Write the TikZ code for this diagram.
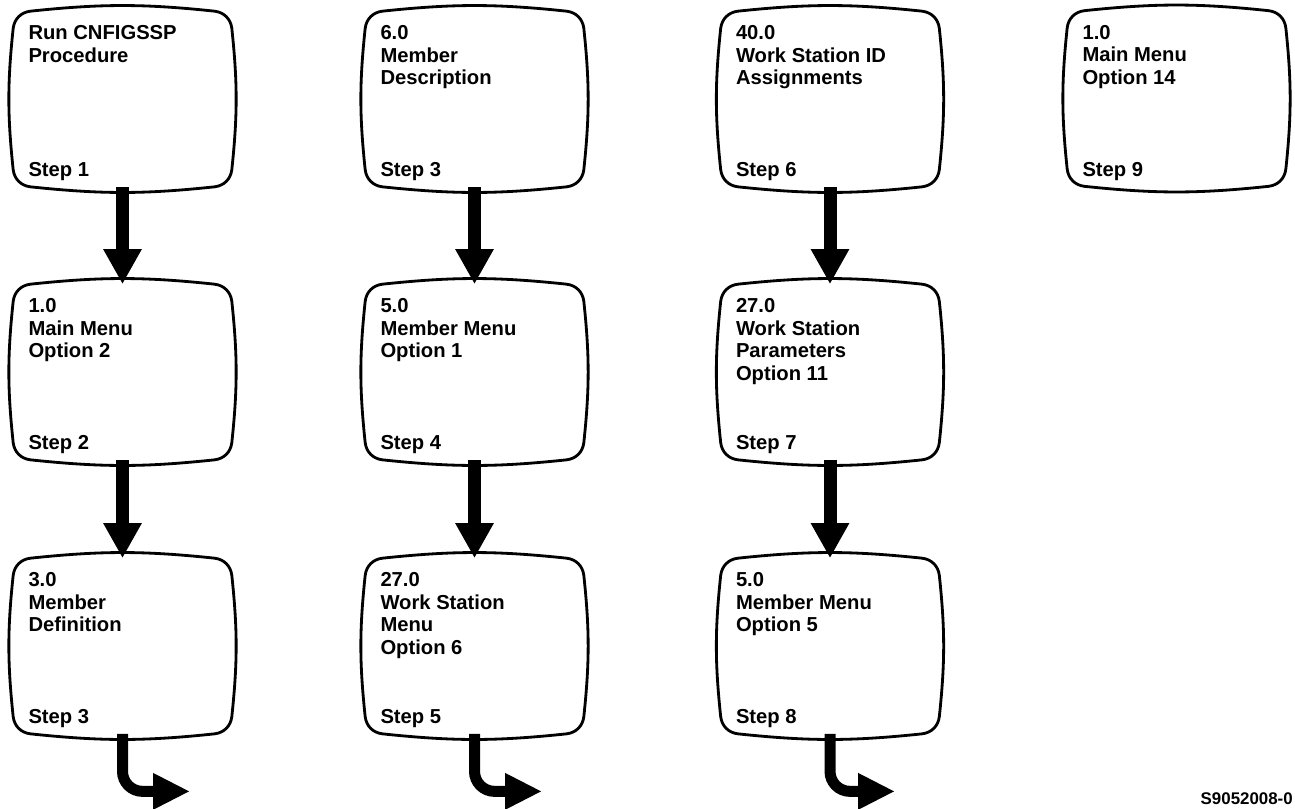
\documentclass[tikz,border=0pt]{standalone}
\usepackage{fontspec}
\setmainfont{Liberation Sans}
\usetikzlibrary{arrows.meta,calc}

% outline of a display screen round a node
\newcommand{\screenframe}[1]{%
  \draw[frame] ($(#1.north west)+(0.35,0)$)
    to[out=6,in=174] ($(#1.north east)+(-0.35,0)$)
    to[out=-6,in=96] ($(#1.north east)+(0,-0.35)$)
    to[out=-84,in=84] ($(#1.south east)+(0,0.35)$)
    to[out=-96,in=6] ($(#1.south east)+(-0.35,0)$)
    to[out=186,in=-6] ($(#1.south west)+(0.35,0)$)
    to[out=174,in=-84] ($(#1.south west)+(0,0.35)$)
    to[out=96,in=-96] ($(#1.north west)+(0,-0.35)$)
    to[out=84,in=186] ($(#1.north west)+(0.35,0)$) -- cycle;}

\begin{document}
\begin{tikzpicture}[
    screen/.style={rectangle, minimum width=4.36cm, minimum height=3.5cm, inner sep=0pt},
    frame/.style={line width=1.6pt},
    head/.style={anchor=north west, xshift=0.3cm, yshift=-0.28cm, inner sep=0pt,
      align=left, font=\bfseries\fontsize{11.5}{12.8}\selectfont},
    stepno/.style={anchor=base west, xshift=0.3cm, yshift=0.2cm, inner sep=0pt,
      font=\bfseries\fontsize{11.5}{12.8}\selectfont},
    down/.style={line width=0.26cm, -{Triangle[width=0.72cm,length=0.7cm]}},
    turn/.style={line width=0.22cm, rounded corners=0.4cm, -{Triangle[width=0.68cm,length=0.74cm]}}
  ]
  \useasboundingbox (0,0) rectangle (25.9,-16.16);
  \clip (0,0) rectangle (25.9,-16.16);

  % Column 1
  \node[screen] (a1) at (2.45,-1.98) {};
  \node[head] (ha1) at (a1.north west) {Run CNFIGSSP\\Procedure};
  \node[stepno] (na1) at (a1.south west) {Step 1};
  \node[screen] (a2) at (2.45,-7.44) {};
  \node[head] (ha2) at (a2.north west) {1.0\\Main Menu\\Option 2};
  \node[stepno] (na2) at (a2.south west) {Step 2};
  \node[screen] (a3) at (2.45,-12.92) {};
  \node[head] (ha3) at (a3.north west) {3.0\\Member\\Definition};
  \node[stepno] (na3) at (a3.south west) {Step 3};
  \coordinate (ea) at ($(a3.south)+(1.35,-1.15)$);
  \screenframe{a1}
  \screenframe{a2}
  \screenframe{a3}
  \draw[down] (a1.south) -- (a2.north);
  \draw[down] (a2.south) -- (a3.north);
  \draw[turn] (a3.south) |- (ea);

  % Column 2
  \node[screen] (b1) at (9.49,-1.98) {};
  \node[head] (hb1) at (b1.north west) {6.0\\Member\\Description};
  \node[stepno] (nb1) at (b1.south west) {Step 3};
  \node[screen] (b2) at (9.49,-7.44) {};
  \node[head] (hb2) at (b2.north west) {5.0\\Member Menu\\Option 1};
  \node[stepno] (nb2) at (b2.south west) {Step 4};
  \node[screen] (b3) at (9.49,-12.92) {};
  \node[head] (hb3) at (b3.north west) {27.0\\Work Station\\Menu\\Option 6};
  \node[stepno] (nb3) at (b3.south west) {Step 5};
  \coordinate (eb) at ($(b3.south)+(1.35,-1.15)$);
  \screenframe{b1}
  \screenframe{b2}
  \screenframe{b3}
  \draw[down] (b1.south) -- (b2.north);
  \draw[down] (b2.south) -- (b3.north);
  \draw[turn] (b3.south) |- (eb);

  % Column 3
  \node[screen] (c1) at (16.6,-1.98) {};
  \node[head] (hc1) at (c1.north west) {40.0\\Work Station ID\\Assignments};
  \node[stepno] (nc1) at (c1.south west) {Step 6};
  \node[screen] (c2) at (16.6,-7.44) {};
  \node[head] (hc2) at (c2.north west) {27.0\\Work Station\\Parameters\\Option 11};
  \node[stepno] (nc2) at (c2.south west) {Step 7};
  \node[screen] (c3) at (16.6,-12.92) {};
  \node[head] (hc3) at (c3.north west) {5.0\\Member Menu\\Option 5};
  \node[stepno] (nc3) at (c3.south west) {Step 8};
  \coordinate (ec) at ($(c3.south)+(1.3,-1.15)$);
  \screenframe{c1}
  \screenframe{c2}
  \screenframe{c3}
  \draw[down] (c1.south) -- (c2.north);
  \draw[down] (c2.south) -- (c3.north);
  \draw[turn] (c3.south) |- (ec);

  % Column 4
  \node[screen] (d1) at (23.53,-1.97) {};
  \node[head] (hd1) at (d1.north west) {1.0\\Main Menu\\Option 14};
  \node[stepno] (nd1) at (d1.south west) {Step 9};
  \screenframe{d1}

  % figure number
  \node[anchor=base east, inner sep=0pt, font=\bfseries\fontsize{9.6}{11}\selectfont] (fig) at (25.86,-16.08) {S9052008-0};
\end{tikzpicture}
\end{document}
